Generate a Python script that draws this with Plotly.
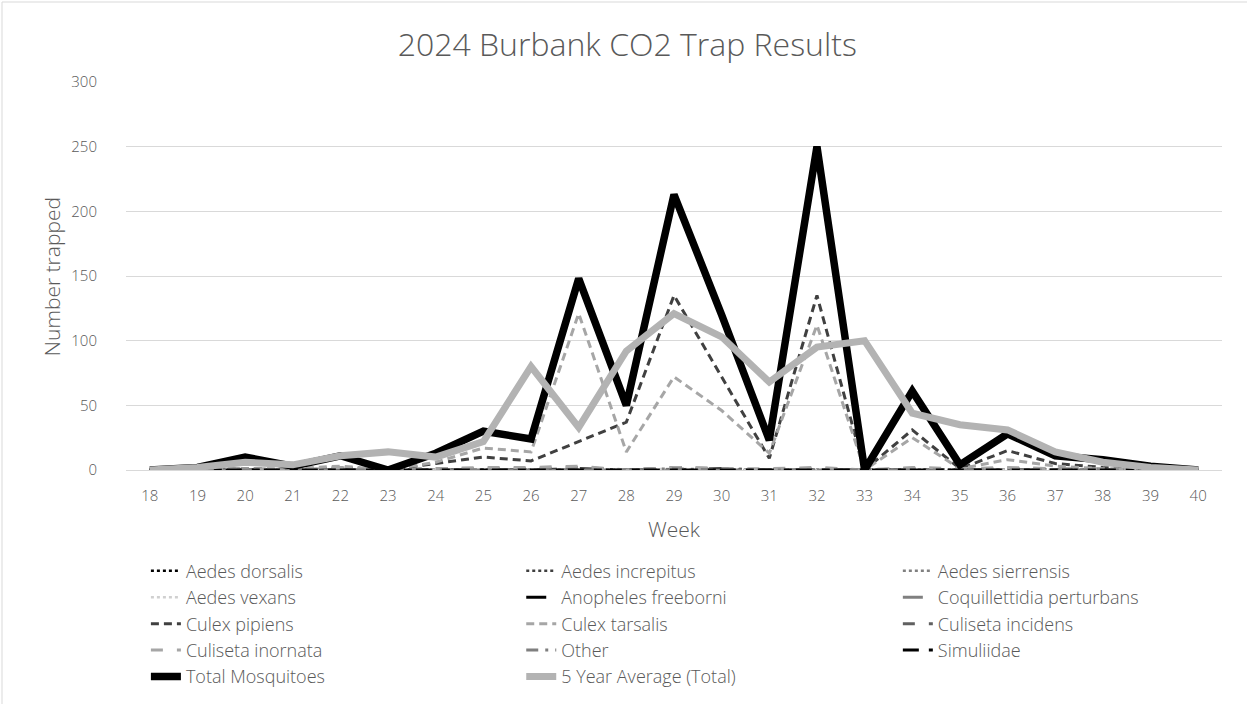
import plotly.graph_objects as go

# weeks of the trapping season
weeks = list(range(18, 41))

# counts per week
aedes_dorsalis = [0] * 23
aedes_increpitus = [0] * 23
aedes_sierrensis = [0] * 23
aedes_vexans = [0, 0, 0, 0, 0, 0, 0, 0, 0, 0, 0, 1, 0, 0, 0, 0, 0, 0, 0, 0, 0, 0, 0]
anopheles_freeborni = [0, 0, 0, 0, 0, 0, 0, 0, 0, 1, 0, 0, 1, 0, 0, 0, 0, 0, 0, 0, 0, 0, 0]
coquillettidia_perturbans = [0] * 23
culex_pipiens = [0, 0, 1, 0, 2, 0, 5, 10, 7, 22, 37, 135, 72, 9, 135, 0, 31, 1, 15, 5, 2, 0, 0]
culex_tarsalis = [0, 1, 1, 1, 3, 0, 6, 17, 14, 121, 14, 72, 46, 13, 112, 0, 25, 1, 8, 3, 1, 0, 0]
culiseta_incidens = [0, 0, 1, 0, 1, 0, 1, 1, 1, 2, 0, 2, 1, 0, 1, 0, 1, 0, 1, 1, 0, 0, 0]
culiseta_inornata = [0, 0, 1, 0, 2, 0, 1, 2, 2, 3, 0, 2, 1, 1, 2, 0, 2, 1, 2, 1, 1, 0, 0]
other = [0, 0, 0, 0, 0, 0, 0, 0, 0, 0, 0, 1, 0, 0, 0, 0, 0, 0, 0, 0, 0, 0, 0]
simuliidae = [0] * 23
total_mosquitoes = [0, 2, 10, 3, 11, 0, 13, 30, 24, 148, 50, 213, 120, 23, 250, 0, 61, 4, 28, 11, 8, 3, 0]
five_year_avg = [0, 2, 6, 4, 11, 14, 10, 22, 80, 33, 92, 121, 103, 68, 95, 100, 44, 35, 31, 14, 6, 2, 0]

txt = "#595959"
fnt = "Open Sans"

# name, data, colour, dash, width, legend column
series = [
    ("Aedes dorsalis", aedes_dorsalis, "#000000", "dot", 2.5, "legend"),
    ("Aedes increpitus", aedes_increpitus, "#404040", "dot", 2.5, "legend2"),
    ("Aedes sierrensis", aedes_sierrensis, "#808080", "dot", 2.5, "legend3"),
    ("Aedes vexans", aedes_vexans, "#d0d0d0", "dot", 2.5, "legend"),
    ("Anopheles freeborni", anopheles_freeborni, "#000000", "20px,10px,3px,10px", 3, "legend2"),
    ("Coquillettidia perturbans", coquillettidia_perturbans, "#808080", "20px,10px,3px,10px", 3, "legend3"),
    ("Culex pipiens", culex_pipiens, "#404040", "8px,5px", 3, "legend"),
    ("Culex tarsalis", culex_tarsalis, "#a6a6a6", "8px,5px", 3, "legend2"),
    ("Culiseta incidens", culiseta_incidens, "#606060", "12px,14px", 3, "legend3"),
    ("Culiseta inornata", culiseta_inornata, "#a6a6a6", "12px,14px", 3, "legend"),
    ("Other", other, "#7f7f7f", "12px,7px,3px,7px", 3, "legend2"),
    ("Simuliidae", simuliidae, "#000000", "16px,10px,8px,4px", 3, "legend3"),
    ("Total Mosquitoes", total_mosquitoes, "#000000", "solid", 7.5, "legend"),
    ("5 Year Average (Total)", five_year_avg, "#b3b3b3", "solid", 7, "legend2"),
]

fig = go.Figure()
for name, vals, col, dash, w, lg in series:
    fig.add_trace(go.Scatter(
        x=weeks, y=vals, name=name, mode="lines", legend=lg,
        line=dict(color=col, dash=dash, width=w),
    ))

leg = dict(orientation="v", xref="container", yref="container", y=0.215,
           yanchor="top", xanchor="left", tracegroupgap=0, bgcolor="rgba(0,0,0,0)",
           font=dict(size=18, color=txt, family=fnt, weight=300))

fig.update_layout(
    width=1247, height=704,
    margin=dict(l=126, r=25, t=82, b=234, autoexpand=False),
    paper_bgcolor="white", plot_bgcolor="white",
    font=dict(family=fnt, color=txt, size=15, weight=300),
    title=dict(text="2024 Burbank CO2 Trap Results", x=0.503, xanchor="center",
               y=0.937, yanchor="middle",
               font=dict(size=32, color=txt, family=fnt, weight=300)),
    xaxis=dict(range=[17.5, 40.5], dtick=1, tick0=18, showgrid=False,
               zeroline=False, showline=True, linecolor="#d9d9d9", linewidth=1,
               ticks="", ticklabelstandoff=12,
               title=dict(text="Week", font=dict(size=21), standoff=18),
               tickfont=dict(size=15)),
    yaxis=dict(range=[0, 300], dtick=50, gridcolor="#d9d9d9", gridwidth=1,
               zeroline=False, ticks="", ticklabelstandoff=28,
               tickfont=dict(size=15)),
    legend=dict(leg, x=0.117),
    legend2=dict(leg, x=0.418),
    legend3=dict(leg, x=0.720),
    annotations=[dict(text="Number trapped", textangle=-90, showarrow=False,
                      xref="paper", yref="paper", x=(52 - 126) / 1096, y=0.497,
                      xanchor="center", yanchor="middle",
                      font=dict(size=21, color=txt, family=fnt, weight=300))],
    shapes=[dict(type="rect", xref="paper", yref="paper",
                 x0=(2 - 126) / 1096, x1=(1300 - 126) / 1096,
                 y0=(470 - 760) / 388, y1=(470 - 2) / 388,
                 line=dict(color="#d9d9d9", width=1), layer="below")],
)

fig.write_html("out.html", config={"displayModeBar": False},
               post_script="document.body.style.margin='0';")
